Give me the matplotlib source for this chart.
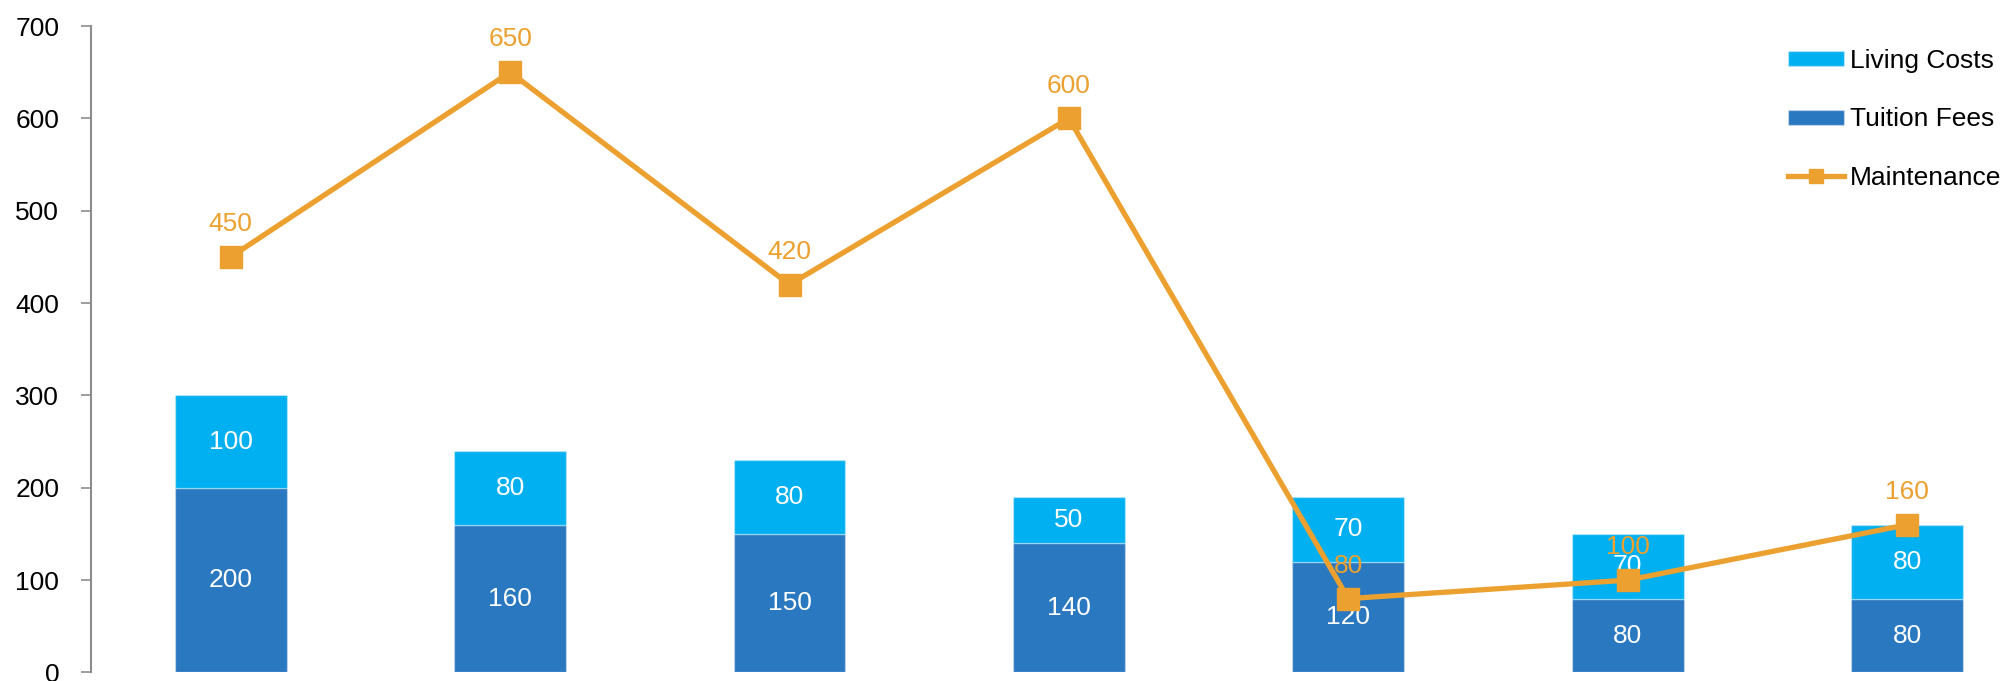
import matplotlib.pyplot as plt
import numpy as np

plt.rcParams['font.family'] = ['Liberation Sans', 'DejaVu Sans']

# cost breakdown per option
tuition = [200, 160, 150, 140, 120, 80, 80]
living = [100, 80, 80, 50, 70, 70, 80]
maintenance = [450, 650, 420, 600, 80, 100, 160]

c_tuition = '#2A78BF'
c_living = '#00B0F0'
c_maint = '#ECA02F'

fig = plt.figure(figsize=(20.06, 6.81), dpi=100)
ax = fig.add_axes([0.0454, 0.0125, 0.9749, 0.9493])

x = np.arange(len(tuition))
b1 = ax.bar(x, tuition, width=0.4, color=c_tuition, edgecolor=(1, 1, 1, 0.35),
            linewidth=1, label='Tuition Fees', zorder=2)
b2 = ax.bar(x, living, width=0.4, bottom=tuition, color=c_living,
            edgecolor=(1, 1, 1, 0.35), linewidth=1, label='Living Costs', zorder=2)
ax.bar_label(b1, label_type='center', color='white', fontsize=19)
ax.bar_label(b2, label_type='center', color='white', fontsize=19)

ln, = ax.plot(x, maintenance, color=c_maint, linewidth=3.8, marker='s',
              markersize=16, label='Maintenance', zorder=3)
for xi, v in zip(x, maintenance):
    ax.annotate(str(v), (xi, v), xytext=(0, 15), textcoords='offset points',
                ha='center', va='bottom', color=c_maint, fontsize=19, zorder=4)

ax.set_xlim(-0.5, len(tuition) - 0.5)
ax.set_ylim(0, 700)
ax.set_yticks(range(0, 701, 100))
ax.set_xticks([])
ax.tick_params(axis='y', labelsize=19, length=7, width=1.2, color='#8c8c8c',
               pad=16)
for s in ['top', 'right', 'bottom']:
    ax.spines[s].set_visible(False)
ax.spines['left'].set_color('#8c8c8c')
ax.spines['left'].set_linewidth(1.5)

fig.legend(handles=[b2, b1, ln], loc='upper right',
           bbox_to_anchor=(1.007, 0.955), frameon=False, fontsize=19,
           handlelength=2.1, handleheight=0.5, handletextpad=0.25,
           labelspacing=1.3, borderaxespad=0.3, markerscale=0.6)

fig.savefig('out.png', dpi=100)
